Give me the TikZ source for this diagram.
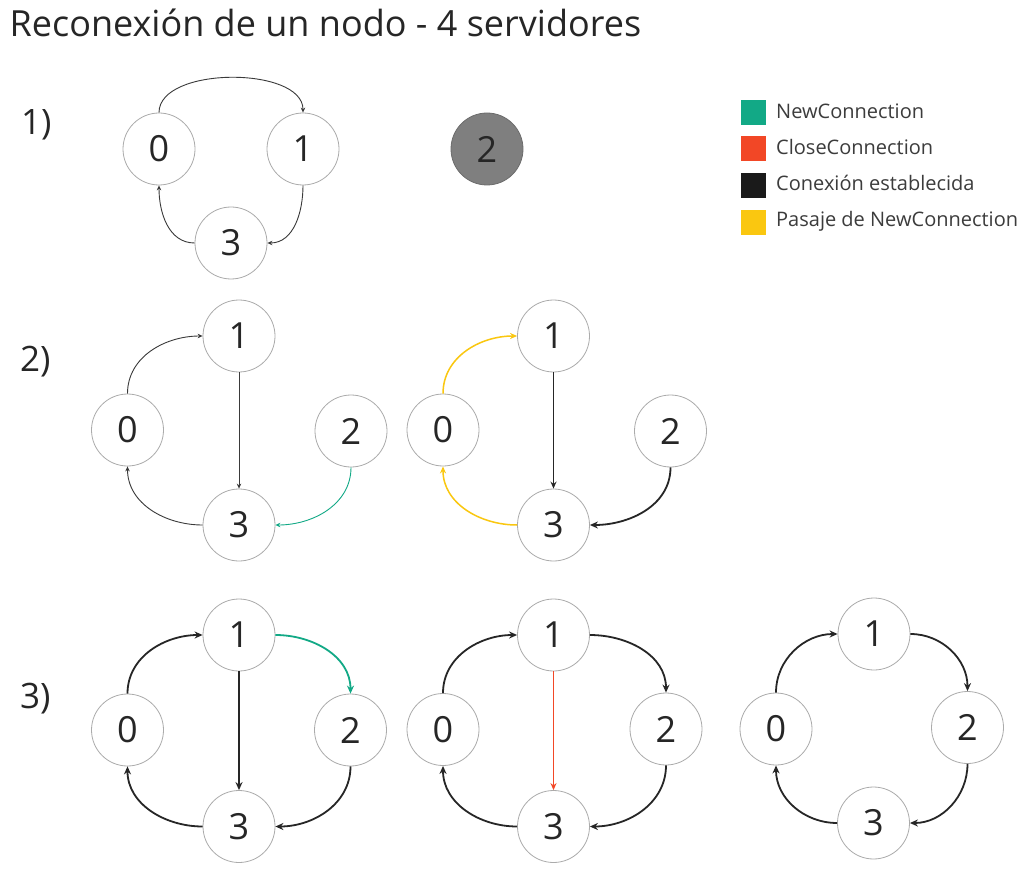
\documentclass[tikz,border=0pt]{standalone}
\usepackage{fontspec}
\setmainfont{Open Sans}
\usetikzlibrary{arrows.meta}
\definecolor{tealc}{HTML}{12A986}
\definecolor{redc}{HTML}{F24726}
\definecolor{yellowc}{HTML}{FAC710}
\definecolor{blackc}{HTML}{1A1A1A}
\definecolor{nodeline}{HTML}{ABABAB}
\definecolor{txt}{HTML}{262626}
\definecolor{lgtxt}{HTML}{3C3C3C}
\definecolor{arrgrey}{HTML}{3A3A3A}
\definecolor{arrdark}{HTML}{262626}
\definecolor{greyfill}{HTML}{7F7F7F}
\begin{document}
\begin{tikzpicture}[x=1pt,y=-1pt,
  nd/.style={circle,draw=nodeline,line width=0.8pt,minimum size=72pt,inner sep=0pt,text=txt,font=\fontsize{36}{40}\selectfont},
  offnd/.style={nd,fill=greyfill,draw=greyfill!85!black},
  thinarr/.style={draw=arrgrey,line width=0.9pt,-{Stealth[length=5pt,width=4.5pt]}},
  medarr/.style={line width=1.5pt,-{Stealth[length=7pt,width=6pt]}},
  thickarr/.style={draw=arrdark,line width=1.8pt,-{Stealth[length=8pt,width=7pt]}},
  lbl/.style={anchor=base west,inner sep=0pt,text=txt,font=\fontsize{35}{40}\selectfont},
  ttl/.style={lbl,font=\fontsize{36}{42}\selectfont},
  lgbox/.style={minimum size=25pt,inner sep=0pt,draw=none,anchor=north west},
  lgtext/.style={anchor=base west,inner sep=0pt,text=lgtxt,font=\fontsize{20}{24}\selectfont},
]
\fill[white] (0,0) rectangle (1036,877);
\useasboundingbox (0,0) rectangle (1036,877);

% title
\node[ttl] (title) at (9.5,36.7) {Reconexión de un nodo - 4 servidores};

% row labels
\node[lbl] (l1) at (21,135) {1)};
\node[lbl] (l2) at (20,371.5) {2)};
\node[lbl] (l3) at (20,708) {3)};

% legend
\node[lgbox,fill=tealc] (g1) at (740.5,100) {};
\node[lgbox,fill=redc] (g2) at (740.5,135.5) {};
\node[lgbox,fill=blackc] (g3) at (740.5,172.5) {};
\node[lgbox,fill=yellowc] (g4) at (740.5,210) {};
\node[lgtext] (t1) at (776,118.5) {NewConnection};
\node[lgtext] (t2) at (776,155) {CloseConnection};
\node[lgtext] (t3) at (776,190.5) {Conexión establecida};
\node[lgtext] (t4) at (776,227) {Pasaje de NewConnection};

% ---------- row 1
\node[nd] (a0) at (159,149) {0};
\node[nd] (a1) at (303,149) {1};
\node[nd] (a3) at (231,243) {3};
\node[offnd] (a2) at (487,149) {2};
\draw[thinarr] (a0.north) .. controls (159,66) and (303,66) .. (a1.north);
\draw[thinarr] (a1.south) to[out=-90,in=0] (a3.east);
\draw[thinarr] (a3.west) to[out=180,in=-90] (a0.south);

% ---------- row 2 left
\node[nd] (b1) at (239,336) {1};
\node[nd] (b0) at (127.5,430) {0};
\node[nd] (b2) at (351,431) {2};
\node[nd] (b3) at (239,525) {3};
\draw[thinarr] (b0.north) to[out=90,in=180] (b1.west);
\draw[thinarr] (b1.south) -- (b3.north);
\draw[thinarr] (b3.west) to[out=180,in=-90] (b0.south);
\draw[thinarr,draw=tealc] (b2.south) to[out=-90,in=0] (b3.east);

% ---------- row 2 right
\node[nd] (c1) at (553.5,336) {1};
\node[nd] (c0) at (443,430) {0};
\node[nd] (c2) at (670.5,431) {2};
\node[nd] (c3) at (553.5,525) {3};
\draw[medarr,draw=yellowc] (c0.north) to[out=90,in=180] (c1.west);
\draw[medarr,draw=arrdark,line width=1.2pt] (c1.south) -- (c3.north);
\draw[medarr,draw=yellowc] (c3.west) to[out=180,in=-90] (c0.south);
\draw[thickarr] (c2.south) to[out=-90,in=0] (c3.east);

% ---------- row 3 left
\node[nd] (d1) at (239,635) {1};
\node[nd] (d0) at (127.5,730) {0};
\node[nd] (d2) at (350.5,730) {2};
\node[nd] (d3) at (239,826.5) {3};
\draw[thickarr] (d0.north) to[out=90,in=180] (d1.west);
\draw[thickarr,draw=tealc] (d1.east) to[out=0,in=90] (d2.north);
\draw[thickarr] (d1.south) -- (d3.north);
\draw[thickarr] (d2.south) to[out=-90,in=0] (d3.east);
\draw[thickarr] (d3.west) to[out=180,in=-90] (d0.south);

% ---------- row 3 middle
\node[nd] (e1) at (553.5,635) {1};
\node[nd] (e0) at (443,729.5) {0};
\node[nd] (e2) at (666,729) {2};
\node[nd] (e3) at (553.5,826.5) {3};
\draw[thickarr] (e0.north) to[out=90,in=180] (e1.west);
\draw[thickarr] (e1.east) to[out=0,in=90] (e2.north);
\draw[medarr,draw=redc,line width=1.7pt] (e1.south) -- (e3.north);
\draw[thickarr] (e2.south) to[out=-90,in=0] (e3.east);
\draw[thickarr] (e3.west) to[out=180,in=-90] (e0.south);

% ---------- row 3 right
\node[nd] (f1) at (874,634) {1};
\node[nd] (f0) at (776,729) {0};
\node[nd] (f2) at (967.5,727.5) {2};
\node[nd] (f3) at (873.5,823) {3};
\draw[thickarr] (f0.north) to[out=90,in=180] (f1.west);
\draw[thickarr] (f1.east) to[out=0,in=90] (f2.north);
\draw[thickarr] (f2.south) to[out=-90,in=0] (f3.east);
\draw[thickarr] (f3.west) to[out=180,in=-90] (f0.south);
\end{tikzpicture}
\end{document}
